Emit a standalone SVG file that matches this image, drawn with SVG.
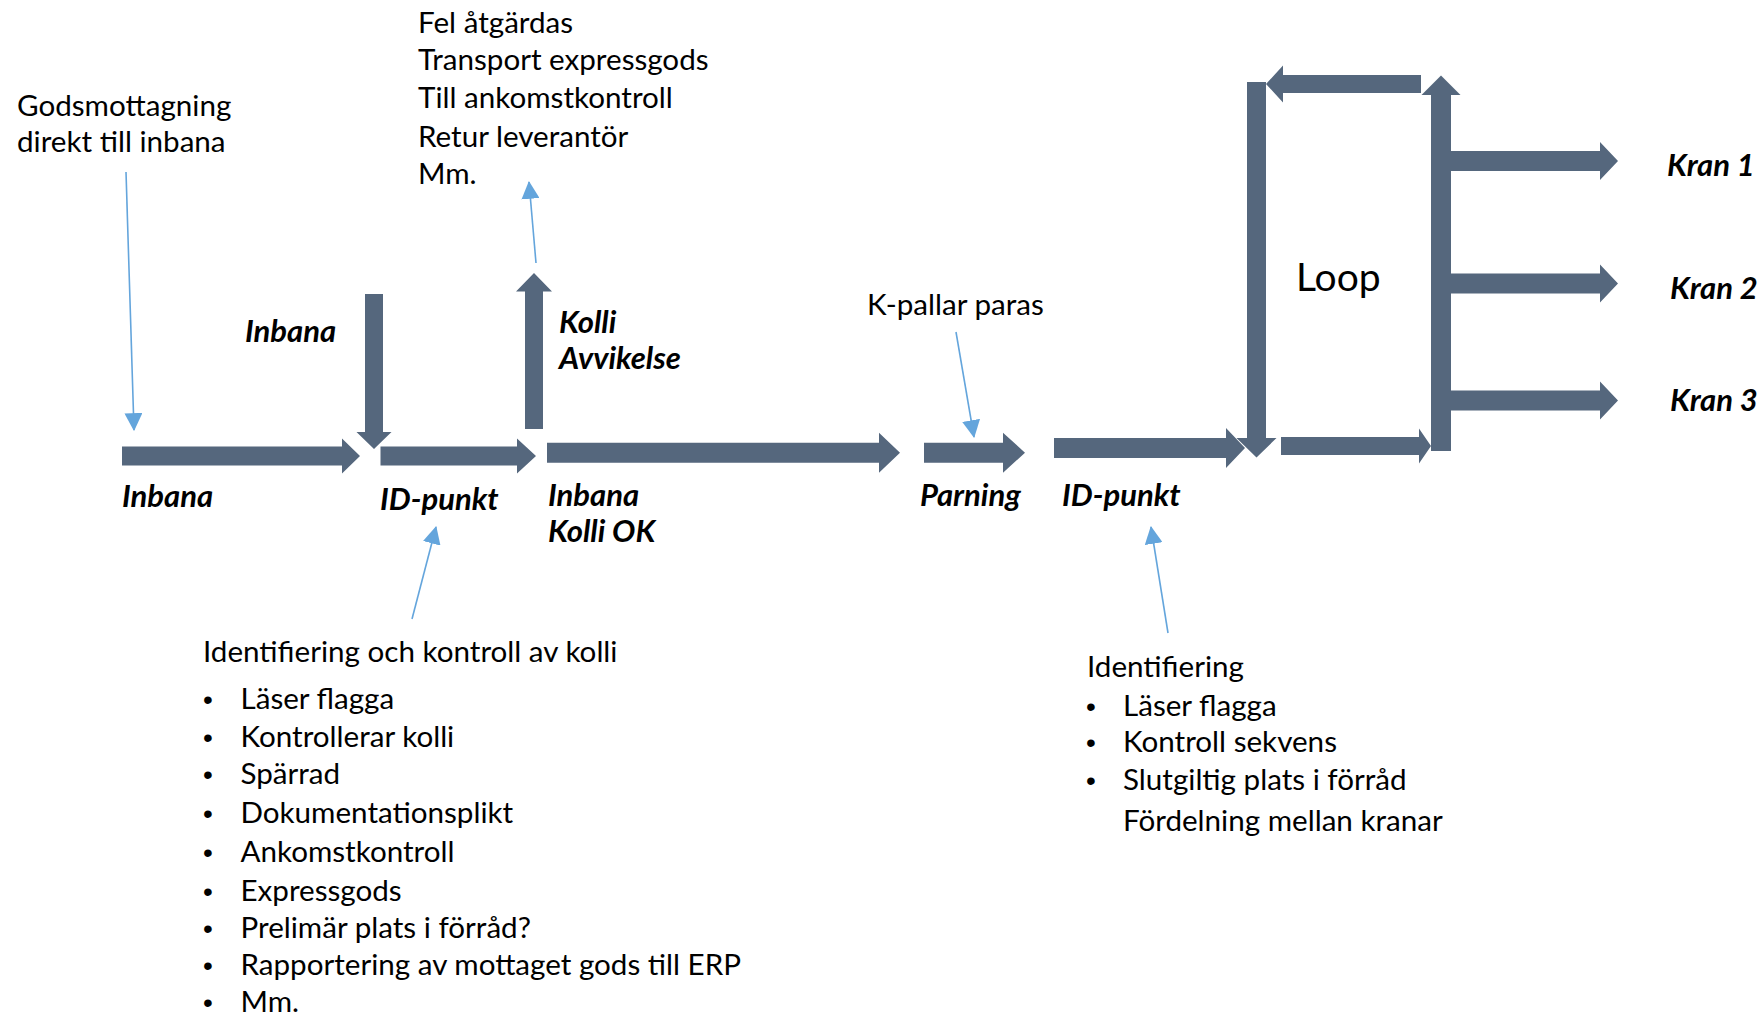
<svg xmlns="http://www.w3.org/2000/svg" width="1762" height="1017" viewBox="0 0 1762 1017">
<style>
.bar{fill:#55677D}
.t{font-family:Lato,"Liberation Sans",sans-serif;font-size:29.6px;fill:#000}
.d{font-family:"Liberation Sans",sans-serif;font-size:28px;fill:#000}
.b{font-family:Lato,"Liberation Sans",sans-serif;font-size:31px;font-weight:bold;font-style:italic;fill:#000}
.c{stroke:#64A5DC;stroke-width:1.6;fill:none;marker-end:url(#ah)}
</style>
<defs>
<marker id="ah" markerUnits="userSpaceOnUse" markerWidth="18" markerHeight="18" viewBox="0 0 16 16" refX="15" refY="8" orient="auto">
<path d="M0,0 L16,8 L0,16 Z" fill="#64A5DC"/>
</marker>
</defs>
<rect width="1762" height="1017" fill="#fff"/>

<g id="arrow-inbana"><polygon class="bar" points="122,446.5 342,446.5 342,438.5 360,456 342,473.5 342,465.5 122,465.5"/></g>
<g id="arrow-inbana-down"><polygon class="bar" points="365,294 383,294 383,432 391.5,432 374,449 356.5,432 365,432"/></g>
<g id="arrow-idpunkt1"><polygon class="bar" points="380.5,446.5 517,446.5 517,438.5 536,456 517,473.5 517,465.5 380.5,465.5"/></g>
<g id="arrow-avvikelse"><polygon class="bar" points="525,429 543,429 543,291.5 552,291.5 534,273 516,291.5 525,291.5"/></g>
<g id="arrow-kolliok"><polygon class="bar" points="547,442.7 879,442.7 879,432.7 900,452.7 879,472.7 879,462.7 547,462.7"/></g>
<g id="arrow-parning"><polygon class="bar" points="924,442.7 1003,442.7 1003,432.7 1025,452.7 1003,472.7 1003,462.7 924,462.7"/></g>
<g id="arrow-idpunkt2"><polygon class="bar" points="1054,438 1226,438 1226,428 1245,448 1226,468 1226,458 1054,458"/></g>
<g id="arrow-loop-down"><polygon class="bar" points="1247,82 1266,82 1266,438 1276.5,438 1256.5,457.5 1236.5,438 1247,438"/></g>
<g id="arrow-loop-top"><polygon class="bar" points="1421,75 1283,75 1283,65.5 1266,84 1283,102.5 1283,93 1421,93"/></g>
<g id="arrow-loop-bottom"><polygon class="bar" points="1281,437 1419,437 1419,428.5 1431,446 1419,463.5 1419,455 1281,455"/></g>
<g id="arrow-loop-up"><polygon class="bar" points="1431,451 1451,451 1451,95 1460.5,95 1441,75.5 1421.5,95 1431,95"/></g>
<g id="arrow-kran1"><polygon class="bar" points="1451,151 1600,151 1600,142 1618,161 1600,180 1600,171 1451,171"/></g>
<g id="arrow-kran2"><polygon class="bar" points="1451,273.5 1600,273.5 1600,264.5 1618,283.5 1600,302.5 1600,293.5 1451,293.5"/></g>
<g id="arrow-kran3"><polygon class="bar" points="1451,390.5 1600,390.5 1600,381.5 1618,400.5 1600,419.5 1600,410.5 1451,410.5"/></g>

<g id="connectors">
<line class="c" x1="126" y1="172" x2="134" y2="430"/>
<line class="c" x1="536" y1="263" x2="529" y2="182"/>
<line class="c" x1="956" y1="332" x2="974" y2="437"/>
<line class="c" x1="412" y1="619" x2="436" y2="527"/>
<line class="c" x1="1168" y1="633" x2="1151" y2="527"/>
</g>

<g id="label-godsmottagning"><text class="t" x="17" y="116">Godsmottagning</text><text class="t" x="17" y="152">direkt till inbana</text></g>
<g id="label-fel">
<text class="t" x="418" y="33">Fel åtgärdas</text>
<text class="t" x="418" y="70">Transport expressgods</text>
<text class="t" x="418" y="108">Till ankomstkontroll</text>
<text class="t" x="418" y="147">Retur leverantör</text>
<text class="t" x="418" y="184">Mm.</text>
</g>
<g id="label-kpallar"><text class="t" x="867" y="315">K-pallar paras</text></g>
<g id="label-loop"><text class="t" x="1296" y="291" style="font-size:39px">Loop</text></g>

<g id="label-inbana-top"><text class="b" x="245" y="342">Inbana</text></g>
<g id="label-inbana"><text class="b" x="122" y="507">Inbana</text></g>
<g id="label-idpunkt1"><text class="b" x="380" y="510">ID-punkt</text></g>
<g id="label-avvikelse"><text class="b" x="559" y="333">Kolli</text><text class="b" x="559" y="369">Avvikelse</text></g>
<g id="label-kolliok"><text class="b" x="548" y="506">Inbana</text><text class="b" x="548" y="542">Kolli OK</text></g>
<g id="label-parning"><text class="b" x="920" y="506">Parning</text></g>
<g id="label-idpunkt2"><text class="b" x="1062" y="506">ID-punkt</text></g>
<g id="label-kran1"><text class="b" x="1667" y="176">Kran 1</text></g>
<g id="label-kran2"><text class="b" x="1670" y="299">Kran 2</text></g>
<g id="label-kran3"><text class="b" x="1670" y="411">Kran 3</text></g>

<g id="label-id-kontroll">
<text class="t" x="203" y="662">Identifiering och kontroll av kolli</text>
<text class="d" x="203" y="709">•</text><text class="t" x="240.5" y="709">Läser flagga</text>
<text class="d" x="203" y="747">•</text><text class="t" x="240.5" y="747">Kontrollerar kolli</text>
<text class="d" x="203" y="784">•</text><text class="t" x="240.5" y="784">Spärrad</text>
<text class="d" x="203" y="823">•</text><text class="t" x="240.5" y="823">Dokumentationsplikt</text>
<text class="d" x="203" y="862">•</text><text class="t" x="240.5" y="862">Ankomstkontroll</text>
<text class="d" x="203" y="901">•</text><text class="t" x="240.5" y="901">Expressgods</text>
<text class="d" x="203" y="938">•</text><text class="t" x="240.5" y="938">Prelimär plats i förråd?</text>
<text class="d" x="203" y="975">•</text><text class="t" x="240.5" y="975">Rapportering av mottaget gods till ERP</text>
<text class="d" x="203" y="1012">•</text><text class="t" x="240.5" y="1012">Mm.</text>
</g>

<g id="label-identifiering">
<text class="t" x="1087" y="677">Identifiering</text>
<text class="d" x="1086" y="716">•</text><text class="t" x="1123" y="716">Läser flagga</text>
<text class="d" x="1086" y="752">•</text><text class="t" x="1123" y="752">Kontroll sekvens</text>
<text class="d" x="1086" y="790">•</text><text class="t" x="1123" y="790">Slutgiltig plats i förråd</text>
<text class="t" x="1123" y="831">Fördelning mellan kranar</text>
</g>
</svg>
